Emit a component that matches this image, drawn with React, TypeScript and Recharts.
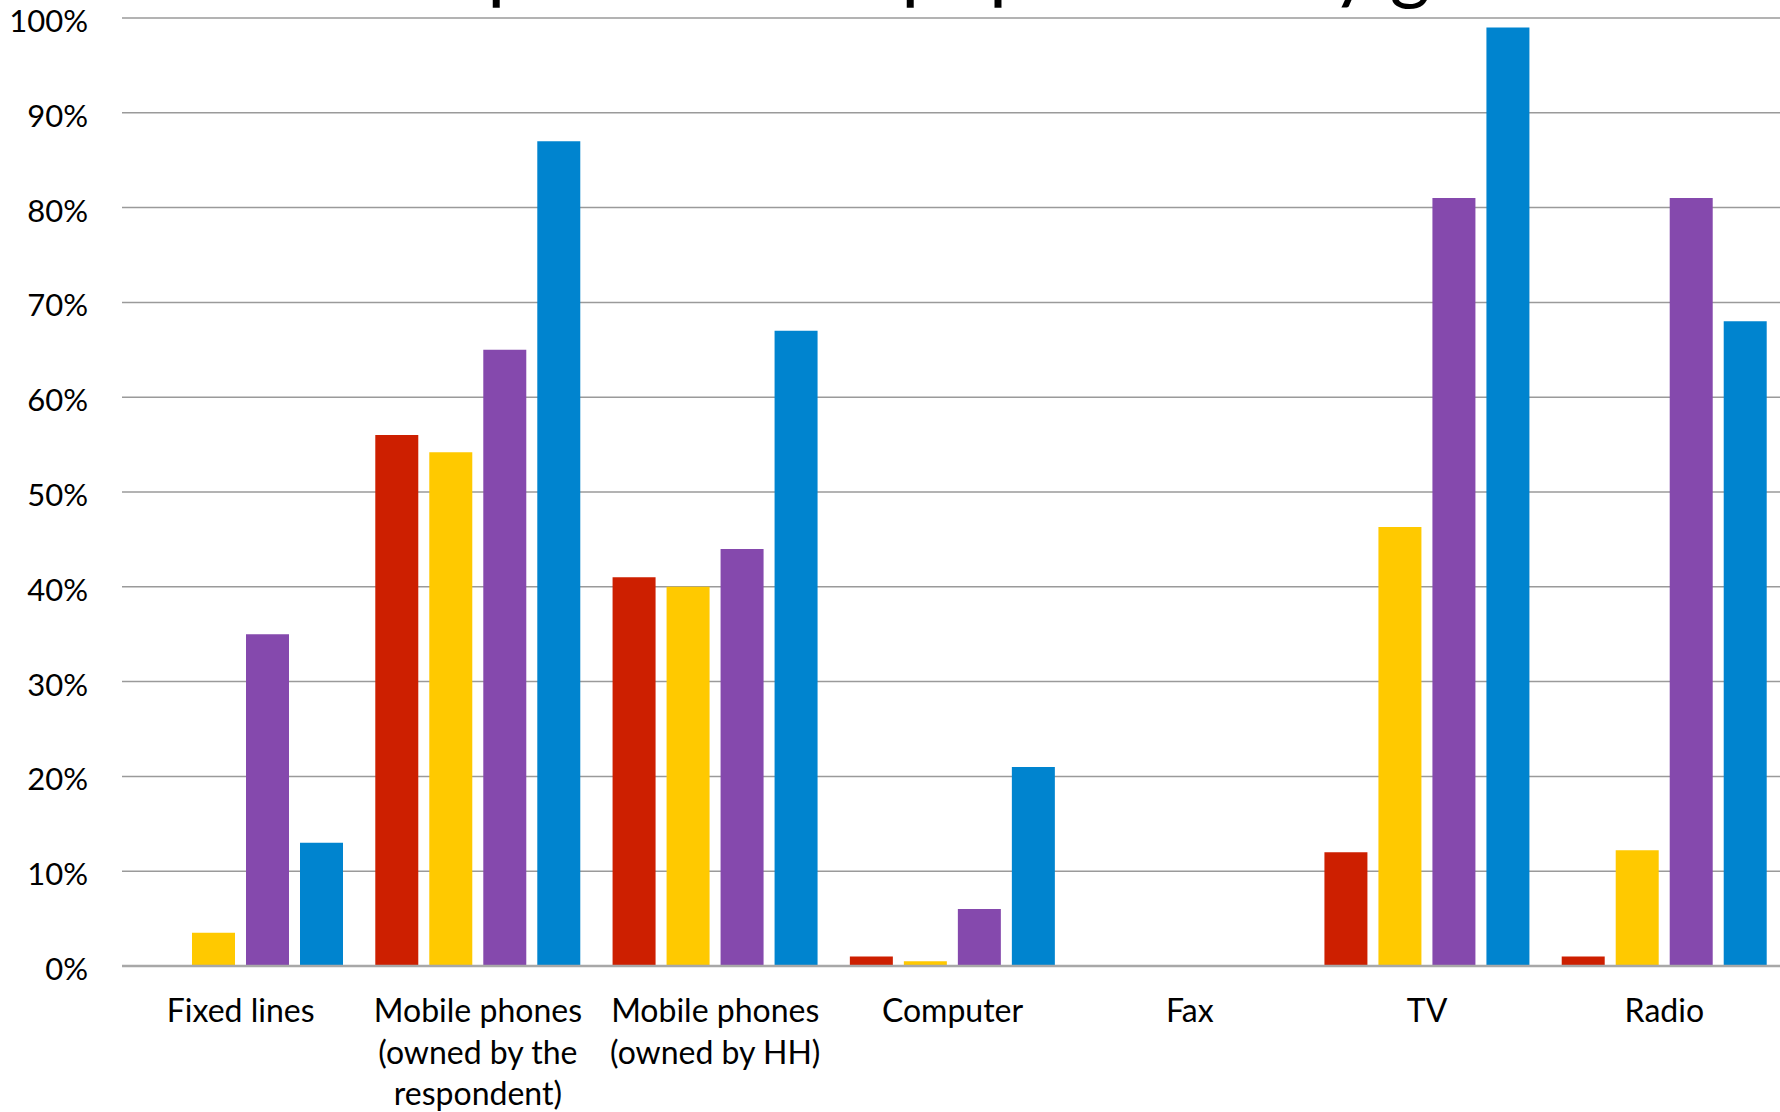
import React from 'react'
import { BarChart, Bar, XAxis, YAxis, CartesianGrid } from 'recharts'

// Categories (line breaks mark where the axis label wraps)
const categories = [
  'Fixed lines',
  'Mobile phones\n(owned by the\nrespondent)',
  'Mobile phones\n(owned by HH)',
  'Computer',
  'Fax',
  'TV',
  'Radio'
]

// Share of respondents per group, 0..1
const groupA = [0, 0.56, 0.41, 0.01, 0, 0.12, 0.01]
const groupB = [0.035, 0.542, 0.4, 0.005, 0, 0.463, 0.122]
const groupC = [0.35, 0.65, 0.44, 0.06, 0, 0.81, 0.81]
const groupD = [0.13, 0.87, 0.67, 0.21, 0, 0.99, 0.68]

const yTicks = [0, 0.1, 0.2, 0.3, 0.4, 0.5, 0.6, 0.7, 0.8, 0.9, 1]

const title = 'ICT adoption in the population by gender'

const data = categories.map((name, i) => ({
  name,
  groupA: groupA[i],
  groupB: groupB[i],
  groupC: groupC[i],
  groupD: groupD[i]
}))

const FONT = 'Lato, "Open Sans", sans-serif'

function CategoryTick({ x, y, payload }: any) {
  const lines = String(payload.value).split('\n')
  return (
    <text x={x} y={y} textAnchor="middle" fontFamily={FONT} fontSize={32} fill="#000">
      {lines.map((line, i) => (
        <tspan key={i} x={x} dy={i === 0 ? 56 : 41.5}>
          {line}
        </tspan>
      ))}
    </text>
  )
}

function PercentTick({ x, y, payload }: any) {
  return (
    <text
      x={x}
      y={y}
      dy={14}
      textAnchor="end"
      fontFamily={FONT}
      fontSize={31}
      fill="#000"
    >
      {`${Math.round(payload.value * 100)}%`}
    </text>
  )
}

export default function App() {
  return (
    <div
      style={{
        position: 'fixed',
        left: 0,
        top: 0,
        width: 1780,
        height: 1112,
        overflow: 'hidden',
        background: '#fff'
      }}
    >
      {/* title sits mostly above the visible area */}
      <svg width={1780} height={30} style={{ position: 'absolute', left: 0, top: 0 }}>
        <text x={223} y={-6} fontFamily={FONT} fontSize={78} fill="#000">
          {title}
        </text>
      </svg>
      <div style={{ position: 'absolute', left: 0, top: 0 }}>
        <BarChart
          width={1784}
          height={1112}
          data={data}
          margin={{ top: 18, right: 1, bottom: 0, left: 0 }}
          barCategoryGap={16}
          barGap={11}
        >
          <CartesianGrid vertical={false} stroke="#9a9a9a" strokeWidth={1.5} />
          <XAxis
            dataKey="name"
            interval={0}
            height={146}
            tickLine={false}
            tickSize={0}
            tickMargin={0}
            axisLine={{ stroke: '#a8a8a8', strokeWidth: 2.5 }}
            tick={<CategoryTick />}
          />
          <YAxis
            width={122}
            domain={[0, 1]}
            ticks={yTicks}
            interval={0}
            axisLine={false}
            tickLine={false}
            tickSize={0}
            tickMargin={34}
            tick={<PercentTick />}
          />
          <Bar dataKey="groupA" fill="#cd1f00" isAnimationActive={false} />
          <Bar dataKey="groupB" fill="#ffc900" isAnimationActive={false} />
          <Bar dataKey="groupC" fill="#8549ad" isAnimationActive={false} />
          <Bar dataKey="groupD" fill="#0084cf" isAnimationActive={false} />
        </BarChart>
      </div>
    </div>
  )
}
